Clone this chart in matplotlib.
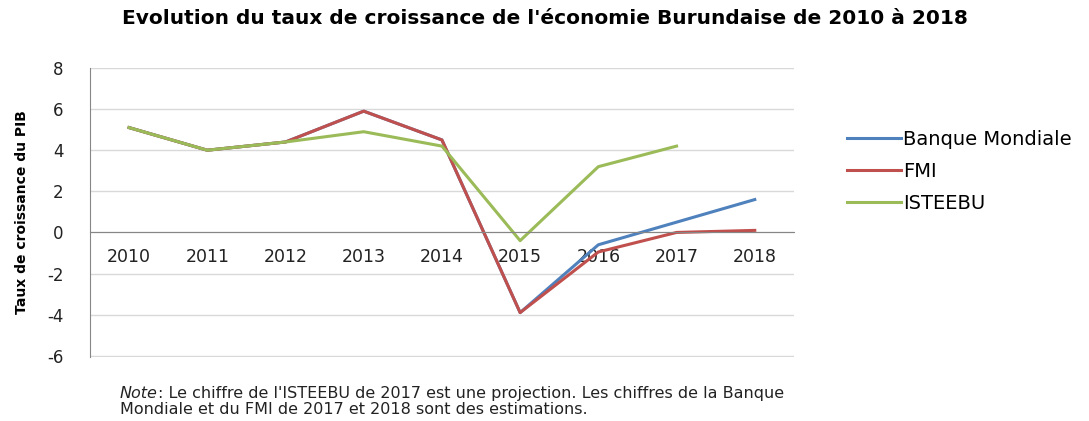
import numpy as np
import matplotlib
matplotlib.use("Agg")
import matplotlib.pyplot as plt

years = ["2010", "2011", "2012", "2013", "2014", "2015", "2016", "2017", "2018"]
banque_mondiale = [5.1, 4.0, 4.4, 5.9, 4.5, -3.9, -0.6, 0.5, 1.6]
fmi = [5.1, 4.0, 4.4, 5.9, 4.5, -3.9, -0.95, 0.0, 0.1]
isteebu = [5.1, 4.0, 4.4, 4.9, 4.2, -0.4, 3.2, 4.2, np.nan]

COLORS = {"blue": "#4F81BD", "red": "#C0504D", "green": "#9BBB59"}
plt.rcParams["axes.unicode_minus"] = False

fig = plt.figure(figsize=(10.89, 4.21), dpi=100)
ax = fig.add_axes([0.0826, 0.152, 0.6464, 0.6865])

x = np.arange(len(years))
ax.plot(x, banque_mondiale, color=COLORS["blue"], lw=2.2, label="Banque Mondiale")
ax.plot(x, fmi, color=COLORS["red"], lw=2.2, label="FMI")
ax.plot(x, isteebu, color=COLORS["green"], lw=2.2, label="ISTEEBU")

ax.set_xlim(-0.5, len(years) - 0.5)
ax.set_ylim(-6.06, 8)
ax.set_yticks(range(-6, 9, 2))
ax.grid(axis="y", color="#d9d9d9", lw=1)
ax.set_axisbelow(True)

for s in ["top", "right"]:
    ax.spines[s].set_visible(False)
ax.spines["left"].set_color("#868686")
ax.spines["bottom"].set_position(("data", 0))
ax.spines["bottom"].set_color("#868686")

ax.set_xticks(x)
ax.set_xticklabels(years, fontsize=12.5, color="#222222")
ax.tick_params(axis="x", length=0, pad=11)
ax.tick_params(axis="y", length=0, pad=19, labelsize=12, labelcolor="#222222")

ax.set_ylabel("Taux de croissance du PIB", fontsize=10, fontweight="bold", va="center")
ax.yaxis.set_label_coords(-0.097, 0.5)

ax.legend(loc="upper left", bbox_to_anchor=(1.05, 0.845), frameon=False,
          fontsize=14, handlelength=2.8, handletextpad=0.1, labelspacing=0.65)

fig.suptitle("Evolution du taux de croissance de l'économie Burundaise de 2010 à 2018",
             fontsize=14.5, fontweight="bold", x=0.5, y=0.978)

t1 = fig.text(0.110, 0.0665, "Note", fontsize=11.5, style="italic", color="#222222", va="center")
ax.annotate(": Le chiffre de l'ISTEEBU de 2017 est une projection. Les chiffres de la Banque",
            xy=(1, 0), xycoords=t1, fontsize=11.5, color="#222222", va="bottom")
fig.text(0.110, 0.0285, "Mondiale et du FMI de 2017 et 2018 sont des estimations.",
         fontsize=11.5, color="#222222", va="center")

fig.savefig("out.png", dpi=100)
